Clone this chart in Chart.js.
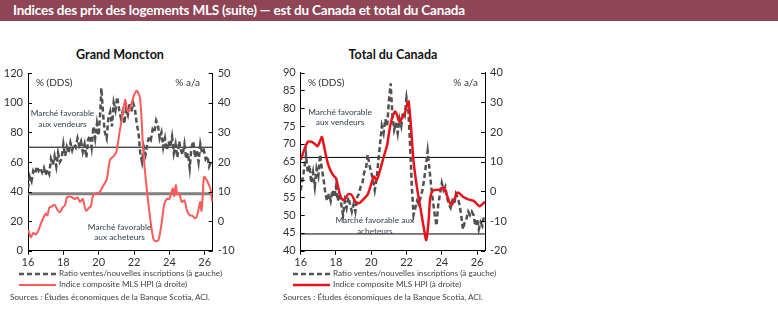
<!DOCTYPE html>
<html lang="fr">
<head>
<meta charset="UTF-8">
<title>Indices des prix des logements MLS</title>
<script src="https://cdn.jsdelivr.net/npm/chart.js"></script>
<style>
    body { margin: 0; width: 778px; height: 310px; background: #fff; font-family: Lato, "Open Sans", sans-serif; position: relative; overflow: hidden; }
    .banner { position: absolute; left: 0; top: 0; width: 778px; height: 21px; background: #8e4556; color: #fff; font-weight: bold; font-size: 13.5px; line-height: 21px; padding-left: 13px; box-sizing: border-box; letter-spacing: -0.2px; }
    .ctitle { position: absolute; top: 47px; width: 200px; text-align: center; font-weight: bold; font-size: 12.5px; color: #111; }
    .box { position: absolute; top: 60px; width: 250px; height: 210px; }
    .leg { position: absolute; font-size: 8.2px; color: #444; white-space: nowrap; line-height: 11px; }
    .leg svg { vertical-align: middle; margin-right: 3px; }
</style>
</head>
<body>
<div class="banner">Indices des prix des logements MLS (suite) — est du Canada et total du Canada</div>

<div class="ctitle" style="left:20px">Grand Moncton</div>
<div class="ctitle" style="left:293px">Total du Canada</div>

<div class="box" style="left:0"><canvas id="moncton" width="250" height="210"></canvas></div>
<div class="box" style="left:270px"><canvas id="canada" width="250" height="210"></canvas></div>

<div class="leg" style="left:19px;top:268px"><svg width="37" height="6"><line x1="0" y1="3" x2="37" y2="3" stroke="#555" stroke-width="2.5" stroke-dasharray="5,3"/></svg>Ratio ventes/nouvelles inscriptions (à gauche)</div>
<div class="leg" style="left:19px;top:279px"><svg width="37" height="6"><line x1="0" y1="3" x2="37" y2="3" stroke="#ff5a5a" stroke-width="2"/></svg>Indice composite MLS HPI (à droite)</div>
<div class="leg" style="left:10px;top:292px">Sources : Études économiques de la Banque Scotia, ACI.</div>

<div class="leg" style="left:293px;top:268px"><svg width="37" height="6"><line x1="0" y1="3" x2="37" y2="3" stroke="#555" stroke-width="2.5" stroke-dasharray="5,3"/></svg>Ratio ventes/nouvelles inscriptions (à gauche)</div>
<div class="leg" style="left:293px;top:279px"><svg width="37" height="6"><line x1="0" y1="3" x2="37" y2="3" stroke="#e8141c" stroke-width="2.5"/></svg>Indice composite MLS HPI (à droite)</div>
<div class="leg" style="left:283px;top:292px">Sources : Études économiques de la Banque Scotia, ACI.</div>

<script>
    // x axis: years (16 = 2016)
    const xTicks = [16, 18, 20, 22, 24, 26];
    const xMin = 16, xMax = 26.45;

    // Grand Moncton - ratio ventes/nouvelles inscriptions (left axis)
    const monctonRatioX = [16.0, 16.1, 16.2, 16.3, 16.4, 16.5, 16.6, 16.7, 16.8, 16.9, 17.0, 17.1, 17.2, 17.3, 17.4, 17.5, 17.6, 17.7, 17.8, 17.9,
        18.0, 18.1, 18.2, 18.3, 18.4, 18.5, 18.6, 18.7, 18.8, 18.9, 19.0, 19.1, 19.2, 19.3, 19.4, 19.5, 19.6, 19.7, 19.8, 19.9,
        20.0, 20.1, 20.15, 20.25, 20.35, 20.45, 20.55, 20.65, 20.75, 20.85, 20.95, 21.05, 21.15, 21.25, 21.35, 21.45, 21.55, 21.65, 21.75, 21.85, 21.95,
        22.05, 22.15, 22.25, 22.35, 22.45, 22.55, 22.65, 22.75, 22.85, 22.95, 23.05, 23.15, 23.25, 23.35, 23.45, 23.55, 23.65, 23.75, 23.85, 23.95,
        24.05, 24.15, 24.25, 24.35, 24.45, 24.55, 24.65, 24.75, 24.85, 24.95, 25.05, 25.15, 25.25, 25.35, 25.45, 25.55, 25.65, 25.75, 25.85, 25.95,
        26.05, 26.15, 26.25, 26.35, 26.42];
    const monctonRatio = [42, 50, 47, 54, 52, 57, 54, 56, 53, 56, 51, 55, 52, 62, 58, 64, 57, 66, 60, 62,
        72, 64, 70, 66, 73, 68, 72, 70, 76, 71, 74, 67, 72, 63, 75, 78, 70, 84, 76, 86,
        78, 96, 110, 92, 80, 76, 90, 94, 84, 100, 95, 104, 96, 90, 94, 86, 96, 92, 100, 94, 100,
        96, 86, 80, 66, 60, 70, 65, 72, 77, 75, 82, 80, 88, 85, 76, 80, 70, 76, 68, 74,
        70, 77, 66, 72, 63, 74, 68, 65, 72, 62, 66, 56, 70, 74, 63, 68, 60, 72, 66, 68,
        62, 64, 57, 60, 59];

    // Grand Moncton - indice composite MLS HPI, % a/a (right axis)
    const monctonHpiX = [16.0, 16.05, 16.15, 16.3, 16.45, 16.6, 16.75, 16.9, 17.0, 17.1, 17.2, 17.35, 17.5, 17.65, 17.8, 17.95,
        18.1, 18.2, 18.35, 18.5, 18.65, 18.8, 18.95, 19.1, 19.2, 19.3, 19.45, 19.55, 19.7, 19.9,
        20.05, 20.26, 20.45, 20.64, 20.85, 21.0, 21.2, 21.35, 21.5, 21.6, 21.7, 21.87, 22.0, 22.15, 22.34, 22.53, 22.81,
        23.09, 23.25, 23.38, 23.5, 23.6, 23.7, 23.85, 24.0, 24.1, 24.2, 24.28, 24.36, 24.45, 24.55, 24.7, 24.85,
        25.0, 25.15, 25.3, 25.45, 25.55, 25.65, 25.75, 25.82, 25.9, 25.96, 26.1, 26.24, 26.32, 26.43];
    const monctonHpi = [-3, -3.5, -5.5, -4, -4.5, -3, -0.5, 1.5, 2.5, 2, 4.5, 5, 5.5, 4, 3, 4.5,
        5.5, 8, 8.3, 8, 7.5, 8, 6.5, 7.5, 5, 3.5, 4.5, 4.9, 9, 9.5,
        9.8, 12, 14, 20.7, 22, 23.5, 30.8, 36, 41, 38, 37, 40, 42.5, 44.1, 41.5, 23, 6,
        -6, -6.8, -6.4, -3, 1, 5.5, 7.5, 7.5, 9.5, 11, 8.5, 12.2, 9, 9.5, 6.5, 7,
        3.5, 2, 1.8, 1, 1.5, 4, 6.5, 3.5, 10, 15, 14, 12.2, 11, 6.5];
    const monctonLines = [70, 38.6]; // seuils marché vendeurs / acheteurs

    // Total du Canada - ratio (left axis)
    const canadaRatioX = [16.0, 16.1, 16.2, 16.3, 16.4, 16.5, 16.6, 16.7, 16.8, 16.9, 17.0, 17.1, 17.2, 17.3, 17.4, 17.5, 17.6, 17.7, 17.8, 17.9,
        18.0, 18.1, 18.2, 18.3, 18.4, 18.5, 18.6, 18.7, 18.8, 18.9, 19.0, 19.1, 19.2, 19.3, 19.4, 19.5, 19.6, 19.7, 19.8, 19.9,
        20.0, 20.1, 20.2, 20.3, 20.4, 20.5, 20.6, 20.7, 20.8, 20.9, 21.0, 21.1, 21.2, 21.3, 21.4, 21.5, 21.6, 21.7, 21.8, 21.9,
        22.0, 22.1, 22.2, 22.3, 22.4, 22.5, 22.6, 22.7, 22.8, 22.9, 23.0, 23.1, 23.2, 23.3, 23.4, 23.5, 23.6, 23.7, 23.8, 23.9,
        24.0, 24.1, 24.2, 24.3, 24.4, 24.5, 24.6, 24.7, 24.8, 24.9, 25.0, 25.1, 25.2, 25.3, 25.4, 25.5, 25.6, 25.7, 25.8, 25.9,
        26.0, 26.1, 26.2, 26.3, 26.4];
    const canadaRatio = [57, 60, 63, 67, 62, 64, 59, 62, 58, 63, 61, 67, 63, 60, 56, 54, 56, 54, 57, 55,
        58, 54, 56, 53, 50, 54, 52, 55, 53, 51, 53, 51, 55, 56, 58, 59, 62, 63, 67, 64,
        62, 60, 57, 60, 65, 70, 75, 73, 77, 75, 82, 87, 78, 74, 76, 73, 77, 75, 79, 78,
        83, 80, 70, 58, 50, 52, 54, 53, 55, 57, 60, 64, 68, 63, 58, 54, 50, 47, 53, 56,
        59, 57, 58, 55, 53, 52, 54, 53, 56, 55, 53, 50, 46, 48, 49, 51, 50, 51, 50, 47,
        49, 46, 48, 47, 50];

    // Total du Canada - indice composite MLS HPI, % a/a (right axis)
    const canadaHpiX = [16.0, 16.2, 16.4, 16.6, 16.8, 16.95, 17.1, 17.2, 17.3, 17.45, 17.6, 17.8, 18.0, 18.1, 18.25, 18.4, 18.55, 18.7, 18.9,
        19.1, 19.3, 19.5, 19.8, 20.0, 20.15, 20.3, 20.5, 20.7, 20.9, 21.0, 21.15, 21.34, 21.45, 21.59, 21.75, 21.9, 22.05, 22.12,
        22.25, 22.4, 22.6, 22.8, 23.0, 23.12, 23.25, 23.35, 23.5, 23.7, 23.9, 24.1, 24.3, 24.55, 24.9, 25.2, 25.5, 25.8, 26.0, 26.15, 26.3, 26.45];
    const canadaHpi = [10.6, 14, 16.7, 16.7, 16, 15.2, 17, 18.3, 16, 11.5, 8.3, 5.8, 4.4, 2, -1.5, -2.9, -2.2, -0.9, -1.3,
        -3.5, -4, -3, -1, 2.5, 5, 3.8, 7.2, 11.5, 15.6, 19.5, 24, 26.9, 26, 23.5, 24.8, 26.3, 29.5, 30.3,
        22, 10, 1, -6, -13, -16.4, -10, -2, 0.3, 0.5, 0.6, 1.3, -1.5, -4.6, -0.4, -1.8, -2.7, -3.2, -4.3, -5, -4.3, -3.5];
    const canadaLines = [66.2, 44.7];

    const noteColor = '#34404f';
    const tickFont = { family: 'Lato', size: 11 };

    function pts(xs, ys) {
        return xs.map((x, i) => ({ x: x, y: ys[i] }));
    }

    // annotations + inward y ticks
    const extras = {
        id: 'extras',
        afterDraw(chart, args, opts) {
            const ctx = chart.ctx;
            const xs = chart.scales.x;
            ctx.save();
            ctx.strokeStyle = '#000';
            ctx.lineWidth = 1;
            ['y', 'y1'].forEach(id => {
                const s = chart.scales[id];
                const x0 = id === 'y' ? s.right : s.left;
                const dir = id === 'y' ? 1 : -1;
                s.ticks.forEach(t => {
                    const py = Math.round(s.getPixelForValue(t.value)) + 0.5;
                    ctx.beginPath();
                    ctx.moveTo(x0, py);
                    ctx.lineTo(x0 + dir * 4, py);
                    ctx.stroke();
                });
            });
            ctx.textBaseline = 'middle';
            opts.items.forEach(n => {
                ctx.font = (n.size || 8.3) + 'px Lato';
                ctx.fillStyle = n.color || noteColor;
                ctx.textAlign = n.align;
                ctx.fillText(n.text, xs.getPixelForValue(n.x), chart.scales.y.getPixelForValue(n.y));
            });
            ctx.restore();
        }
    };

    function makeChart(id, o) {
        const refData = o.lines.map(v => [{ x: xMin, y: v }, { x: xMax, y: v }]);
        return new Chart(document.getElementById(id), {
            type: 'line',
            data: {
                datasets: [
                    { data: pts(o.hpiX, o.hpi), yAxisID: 'y1', borderColor: o.hpiColor, borderWidth: o.hpiWidth, pointRadius: 0, tension: 0.3 },
                    { data: pts(o.ratioX, o.ratio), yAxisID: 'y', borderColor: '#505050', borderWidth: 2.5, borderDash: [5, 3], pointRadius: 0, tension: 0 },
                    { data: refData[0], yAxisID: 'y', borderColor: '#000', borderWidth: 1, pointRadius: 0 },
                    { data: refData[1], yAxisID: 'y', borderColor: o.line2Color, borderWidth: o.line2Width, pointRadius: 0 }
                ]
            },
            options: {
                responsive: false,
                animation: false,
                layout: { padding: { top: o.padTop, right: o.padRight, left: 0, bottom: 0 } },
                plugins: { legend: { display: false }, tooltip: { enabled: false }, extras: { items: o.notes } },
                scales: {
                    x: {
                        type: 'linear', min: xMin, max: xMax,
                        afterBuildTicks: s => { s.ticks = xTicks.map(v => ({ value: v })); },
                        afterFit: s => { s.height = o.xHeight; },
                        ticks: { font: tickFont, color: '#333', padding: 1, maxRotation: 0 },
                        grid: { drawOnChartArea: false, tickLength: 4, color: '#000' },
                        border: { color: '#000' }
                    },
                    y: {
                        position: 'left', min: o.yMin, max: o.yMax,
                        afterFit: s => { s.width = o.yWidth; },
                        ticks: { stepSize: o.yStep, font: tickFont, color: '#333', padding: 5 },
                        grid: { display: false, drawTicks: false },
                        border: { display: true, color: '#000' }
                    },
                    y1: {
                        position: 'right', min: o.y1Min, max: o.y1Max,
                        afterFit: s => { s.width = o.y1Width; },
                        ticks: { stepSize: 10, font: tickFont, color: '#333', padding: 5 },
                        grid: { display: false, drawTicks: false },
                        border: { display: true, color: '#000' }
                    }
                }
            },
            plugins: [extras]
        });
    }

    makeChart('moncton', {
        hpiX: monctonHpiX, hpi: monctonHpi, hpiColor: '#ff5a5a', hpiWidth: 2,
        ratioX: monctonRatioX, ratio: monctonRatio,
        lines: monctonLines, line2Color: '#808080', line2Width: 3,
        yMin: 0, yMax: 120, yStep: 20, y1Min: -10, y1Max: 50,
        padTop: 13.3, padRight: 12, xHeight: 19.3, yWidth: 28, y1Width: 25.3,
        notes: [
            { text: '% (DDS)', x: 16.45, y: 113.5, align: 'left', color: '#333', size: 10 },
            { text: '% a/a', x: 25.73, y: 113.5, align: 'right', color: '#333', size: 10 },
            { text: 'Marché favorable', x: 17.95, y: 93.2, align: 'center' },
            { text: 'aux vendeurs', x: 17.95, y: 85.7, align: 'center' },
            { text: 'Marché favorable', x: 21.18, y: 16, align: 'center' },
            { text: 'aux acheteurs', x: 21.18, y: 9.3, align: 'center' }
        ]
    });

    makeChart('canada', {
        hpiX: canadaHpiX, hpi: canadaHpi, hpiColor: '#e8141c', hpiWidth: 2.5,
        ratioX: canadaRatioX, ratio: canadaRatio,
        lines: canadaLines, line2Color: '#000', line2Width: 1,
        yMin: 40, yMax: 90, yStep: 5, y1Min: -20, y1Max: 40,
        padTop: 12.7, padRight: 10, xHeight: 19.3, yWidth: 30.7, y1Width: 25,
        notes: [
            { text: '% (DDS)', x: 16.41, y: 87.1, align: 'left', color: '#333', size: 10 },
            { text: '% a/a', x: 26.05, y: 87.1, align: 'right', color: '#333', size: 10 },
            { text: 'Marché favorable', x: 18.23, y: 79, align: 'center' },
            { text: 'aux vendeurs', x: 18.23, y: 76.2, align: 'center' },
            { text: 'Marché favorable aux', x: 20.2, y: 48.6, align: 'center' },
            { text: 'acheteurs', x: 20.2, y: 45.5, align: 'center' }
        ]
    });
</script>
</body>
</html>
